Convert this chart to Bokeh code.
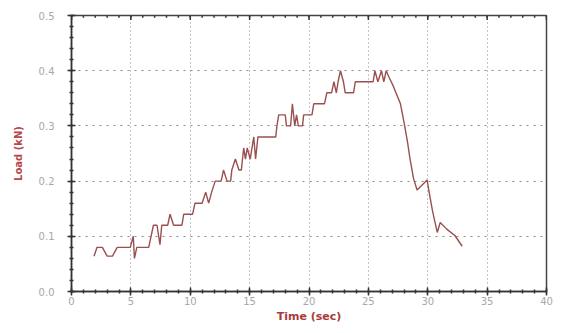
import numpy as np
from bokeh.plotting import figure
from bokeh.models import Range1d, SingleIntervalTicker, NumeralTickFormatter
from bokeh.embed import file_html
from bokeh.resources import INLINE

# Data
time_sec = [1.9, 2.15, 2.6, 3.0, 3.45, 3.85, 4.95, 5.2, 5.3, 5.5, 6.5, 6.9, 7.2, 7.45, 7.6, 8.1,
            8.3, 8.6, 9.3, 9.45, 10.2, 10.4, 11.0, 11.3, 11.55, 11.8, 12.1, 12.6, 12.8, 13.1,
            13.4, 13.5, 13.8, 14.1, 14.3, 14.4, 14.5, 14.65, 14.8, 15.05, 15.2, 15.35, 15.5,
            15.7, 17.2, 17.3, 17.45, 18.0, 18.1, 18.45, 18.6, 18.8, 18.95, 19.1, 19.45, 19.55,
            20.25, 20.4, 21.3, 21.5, 21.9, 22.1, 22.3, 22.45, 22.65, 22.9, 23.05, 23.75, 23.9,
            25.4, 25.55, 25.8, 26.1, 26.3, 26.5, 26.7, 27.1, 27.7, 28.0, 28.3, 28.5, 28.8,
            29.1, 29.95, 30.1, 30.4, 30.8, 31.05, 31.6, 32.3, 32.9]
load_kn = [0.064, 0.08, 0.08, 0.064, 0.064, 0.08, 0.08, 0.1, 0.06, 0.08, 0.08, 0.12, 0.12, 0.085,
           0.12, 0.12, 0.14, 0.12, 0.12, 0.14, 0.14, 0.16, 0.16, 0.18, 0.16, 0.18, 0.2, 0.2,
           0.22, 0.2, 0.2, 0.22, 0.24, 0.22, 0.22, 0.24, 0.26, 0.24, 0.26, 0.24, 0.26, 0.28,
           0.24, 0.28, 0.28, 0.3, 0.32, 0.32, 0.3, 0.3, 0.34, 0.3, 0.32, 0.3, 0.3, 0.32, 0.32,
           0.34, 0.34, 0.36, 0.36, 0.38, 0.36, 0.38, 0.4, 0.38, 0.36, 0.36, 0.38, 0.38, 0.4,
           0.38, 0.4, 0.38, 0.4, 0.39, 0.372, 0.34, 0.307, 0.27, 0.241, 0.205, 0.184, 0.202,
           0.182, 0.146, 0.107, 0.125, 0.113, 0.101, 0.082]

x_min, x_max = 0, 40
y_min, y_max = 0, 0.5
x_major_step = 5
y_major_step = 0.1

p = figure(width=553, height=325, x_range=Range1d(x_min, x_max), y_range=Range1d(y_min, y_max),
           output_backend="svg", toolbar_location=None,
           min_border_left=71, min_border_right=7, min_border_top=15, min_border_bottom=31)
p.background_fill_color = "white"
p.border_fill_color = "white"
p.outline_line_color = "#444444"
p.outline_line_width = 1.5

p.xgrid.grid_line_color = "#8a8a8a"
p.xgrid.grid_line_dash = "1 3"
p.ygrid.grid_line_color = "#8a8a8a"
p.ygrid.grid_line_dash = "2 5"

# top-edge tick marks (frame decoration)
top_major = np.arange(x_min, x_max + 0.01, x_major_step)
top_minor = np.arange(x_min, x_max + 0.01, 1.0)
p.segment(x0=top_minor, y0=y_max, x1=top_minor, y1=y_max - 0.004,
          line_color="#333333", line_width=1.5)
p.segment(x0=top_major, y0=y_max, x1=top_major, y1=y_max - 0.008,
          line_color="#333333", line_width=1.5)

p.line(time_sec, load_kn, line_color="#9b4f4f", line_width=1.4)

label_color = "#a8a8a8"
title_color = "#a83a3a"

for ax in (p.xaxis[0], p.yaxis[0]):
    ax.axis_line_color = "#333333"
    ax.axis_line_width = 1.5
    ax.major_tick_line_color = "#333333"
    ax.minor_tick_line_color = "#333333"
    ax.major_tick_line_width = 1.5
    ax.minor_tick_line_width = 1.5
    ax.major_tick_in = 4
    ax.major_tick_out = 4
    ax.minor_tick_in = 2
    ax.minor_tick_out = 2
    ax.major_label_text_color = label_color
    ax.major_label_text_font = "DejaVu Sans"
    ax.major_label_text_font_size = "10px"
    ax.axis_label_text_color = title_color
    ax.axis_label_text_font = "DejaVu Sans"
    ax.axis_label_text_font_style = "bold"

p.xaxis[0].ticker = SingleIntervalTicker(interval=x_major_step, num_minor_ticks=5)
p.yaxis[0].ticker = SingleIntervalTicker(interval=y_major_step, num_minor_ticks=5)
p.yaxis[0].formatter = NumeralTickFormatter(format="0.0")

p.xaxis[0].axis_label = "Time (sec)"
p.xaxis[0].axis_label_text_font_size = "11px"
p.xaxis[0].major_label_standoff = 1
p.xaxis[0].axis_label_standoff = 2

p.yaxis[0].axis_label = "Load (kN)"
p.yaxis[0].axis_label_text_font_size = "10px"
p.yaxis[0].axis_label_text_color = "#b54848"
p.yaxis[0].major_label_standoff = 13
p.yaxis[0].axis_label_standoff = 12

open("out.html", "w").write(file_html(p, INLINE))
